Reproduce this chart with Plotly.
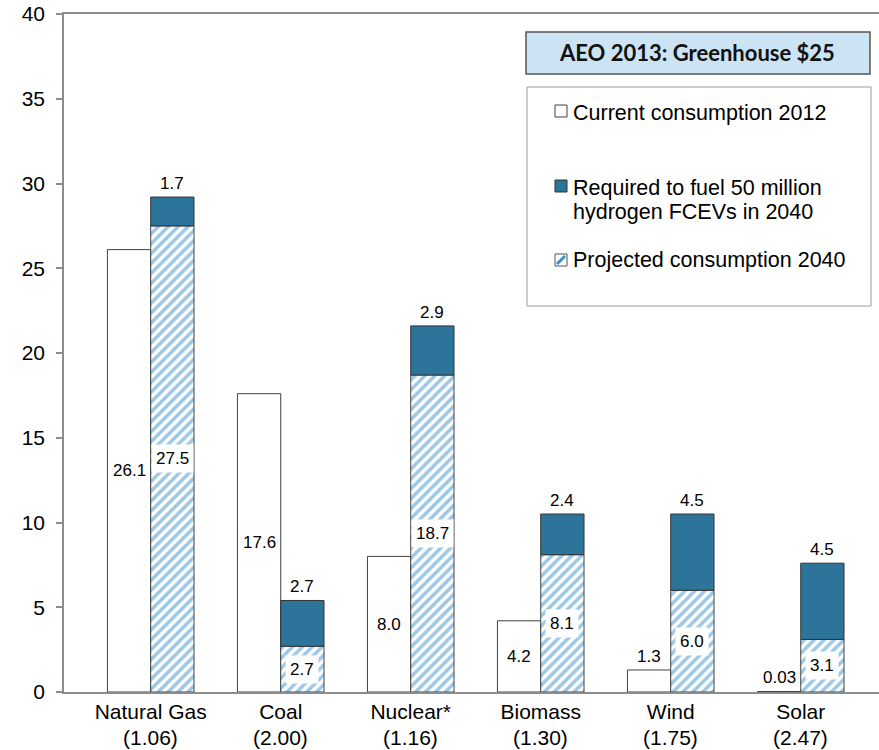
import plotly.graph_objects as go

# ---------------- data ----------------
categories = ["Natural Gas", "Coal", "Nuclear*", "Biomass", "Wind", "Solar"]
efficiency_ratios = ["(1.06)", "(2.00)", "(1.16)", "(1.30)", "(1.75)", "(2.47)"]
current_2012 = [26.1, 17.6, 8.0, 4.2, 1.3, 0.03]
projected_2040 = [27.5, 2.7, 18.7, 8.1, 6.0, 3.1]
required_fcev = [1.7, 2.7, 2.9, 2.4, 4.5, 4.5]
y_ticks = [0, 5, 10, 15, 20, 25, 30, 35, 40]

legend_title = "AEO 2013: Greenhouse $25"
name_current = "Current consumption 2012"
name_required = ["Required to fuel 50 million", "hydrogen FCEVs in 2040"]
name_projected = "Projected consumption 2040"

# ---------------- layout constants ----------------
W, H = 879, 750
ML, MR, MT, MB = 64, 0, 14, 58
BAR_W = 0.333
FONT = "Liberation Sans, Arial, Helvetica, sans-serif"
DARK_BLUE = "#2C7499"
HATCH_BLUE = "#3A8FCB"
OUTLINE = "#404040"
AXIS_GREY = "#8c8c8c"

x_idx = list(range(len(categories)))


def fmt(v):
    return f"{v:.2f}" if v < 0.1 else f"{v:.1f}"


def px(x):
    return (x - ML) / (W - ML - MR)


def py(y):
    return (H - MB - y) / (H - MT - MB)


fig = go.Figure()

fig.add_bar(
    x=x_idx, y=current_2012, width=BAR_W, offset=-BAR_W,
    marker=dict(color="white", line=dict(color=OUTLINE, width=1)),
    name=name_current, showlegend=False, hoverinfo="y",
)
fig.add_bar(
    x=x_idx, y=projected_2040, width=BAR_W, offset=0,
    marker=dict(
        color="white",
        pattern=dict(shape="/", fgcolor=HATCH_BLUE, bgcolor="white",
                     size=7, solidity=0.5, fillmode="overlay"),
        line=dict(color=OUTLINE, width=1),
    ),
    name=name_projected, showlegend=False, hoverinfo="y",
)
fig.add_bar(
    x=x_idx, y=required_fcev, base=projected_2040, width=BAR_W, offset=0,
    marker=dict(color=DARK_BLUE, line=dict(color="#333333", width=1)),
    name=" ".join(name_required), showlegend=False, hoverinfo="y",
)

annotations = []
label_font = dict(family=FONT, size=17, color="black")

# current (white) bar labels
for i, v in enumerate(current_2012):
    if v >= 3:
        annotations.append(dict(x=i - BAR_W / 2, y=v / 2, xref="x", yref="y",
                                text=fmt(v), showarrow=False, font=label_font,
                                xanchor="center", yanchor="middle"))
    else:
        annotations.append(dict(x=i - BAR_W / 2, y=v, xref="x", yref="y",
                                text=fmt(v), showarrow=False, font=label_font,
                                xanchor="center", yanchor="bottom", yshift=2))
# projected (hatched) labels
for i, v in enumerate(projected_2040):
    annotations.append(dict(x=i + BAR_W / 2, y=v / 2, xref="x", yref="y",
                            text=fmt(v), showarrow=False, font=label_font,
                            xanchor="center", yanchor="middle",
                            bgcolor="white", borderpad=4))
# required (dark) labels above stacks
for i, (p, r) in enumerate(zip(projected_2040, required_fcev)):
    annotations.append(dict(x=i + BAR_W / 2, y=p + r, xref="x", yref="y",
                            text=fmt(r), showarrow=False, font=label_font,
                            xanchor="center", yanchor="bottom", yshift=2))

# second line of category labels
for i, r in enumerate(efficiency_ratios):
    annotations.append(dict(x=i, y=0, xref="x", yref="paper", text=r,
                            showarrow=False, xanchor="center", yanchor="middle",
                            yshift=-45,
                            font=dict(family=FONT, size=21, color="black")))

# ---------------- custom legend ----------------
shapes = []
shapes.append(dict(type="rect", xref="paper", yref="paper",
                   x0=px(526), x1=px(870), y0=py(74), y1=py(32),
                   fillcolor="#CCE3F3", line=dict(color="#555555", width=1.5)))
annotations.append(dict(x=px(697), y=py(53), xref="paper", yref="paper",
                        text="<b>" + legend_title + "</b>", showarrow=False,
                        xanchor="center", yanchor="middle",
                        font=dict(family="Lato, Open Sans, sans-serif", size=22, color="#111111")))
shapes.append(dict(type="rect", xref="paper", yref="paper",
                   x0=px(527), x1=px(871), y0=py(306), y1=py(87),
                   fillcolor="white", line=dict(color="#9a9a9a", width=1)))
# markers
shapes.append(dict(type="rect", xref="paper", yref="paper",
                   x0=px(555), x1=px(567), y0=py(117), y1=py(105),
                   fillcolor="white", line=dict(color=OUTLINE, width=1)))
shapes.append(dict(type="rect", xref="paper", yref="paper",
                   x0=px(555), x1=px(567), y0=py(192), y1=py(180),
                   fillcolor=DARK_BLUE, line=dict(color="#333333", width=1)))
shapes.append(dict(type="rect", xref="paper", yref="paper",
                   x0=px(555), x1=px(567), y0=py(266), y1=py(254),
                   fillcolor="white", line=dict(color="#555555", width=1)))
shapes.append(dict(type="line", xref="paper", yref="paper",
                   x0=px(557), x1=px(565), y0=py(264), y1=py(256),
                   line=dict(color=HATCH_BLUE, width=3)))
legend_font = dict(family=FONT, size=21.5, color="black")
for txt, ypix in [(name_current, 113), (name_required[0], 188),
                  (name_required[1], 212), (name_projected, 260)]:
    annotations.append(dict(x=px(571), y=py(ypix), xref="paper", yref="paper",
                            text=txt, showarrow=False, xanchor="left",
                            yanchor="middle", font=legend_font))

fig.update_layout(
    width=W, height=H,
    margin=dict(l=ML, r=MR, t=MT, b=MB, pad=0),
    paper_bgcolor="white", plot_bgcolor="white",
    barmode="overlay",
    showlegend=False,
    shapes=shapes,
    annotations=annotations,
    font=dict(family=FONT, color="black"),
    xaxis=dict(
        range=[-0.667, 5.602],
        tickmode="array", tickvals=x_idx, ticktext=categories,
        tickfont=dict(family=FONT, size=21, color="black"),
        ticks="", showgrid=False, zeroline=False,
        showline=True, linecolor=AXIS_GREY, linewidth=1.5, mirror=True,
    ),
    yaxis=dict(
        range=[0, 40],
        tickmode="array", tickvals=y_ticks,
        tickfont=dict(family=FONT, size=21, color="black"),
        ticks="outside", ticklen=6, tickcolor=AXIS_GREY, tickwidth=1.5,
        showgrid=False, zeroline=False,
        showline=True, linecolor=AXIS_GREY, linewidth=1.5,
        ticklabelstandoff=7,
    ),
)

fig.write_html(
    "out.html",
    config={"displayModeBar": False},
    post_script="document.body.style.margin='0';document.body.style.overflow='hidden';",
)
